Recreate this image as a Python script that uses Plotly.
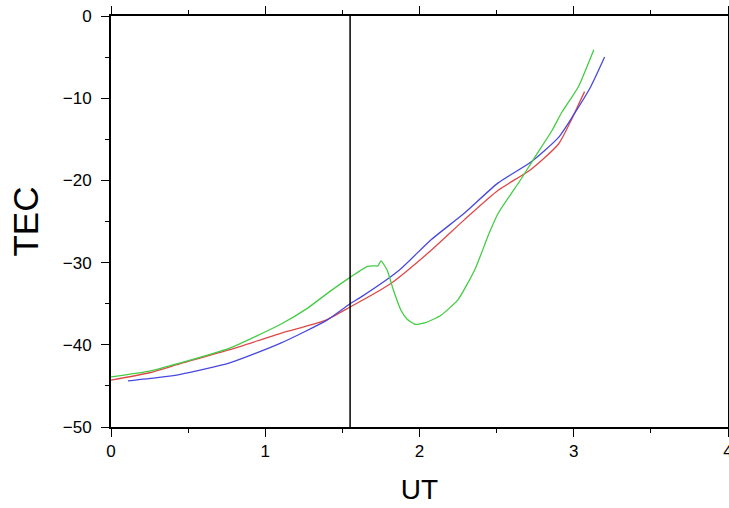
import plotly.graph_objects as go

# UT (hours) and TEC values for the three tracks
ut_red = [0.00, 0.25, 0.45, 0.77, 1.10, 1.38, 1.55, 1.81, 2.07, 2.29, 2.51, 2.72, 2.90, 2.98, 3.07]
tec_red = [-44.3, -43.4, -42.3, -40.6, -38.6, -37.1, -35.4, -32.6, -28.6, -24.8, -21.2, -18.7, -15.6, -12.8, -9.2]

ut_blue = [0.11, 0.30, 0.45, 0.77, 1.10, 1.40, 1.55, 1.62, 1.87, 2.07, 2.29, 2.51, 2.72, 2.90, 3.00, 3.11, 3.20]
tec_blue = [-44.4, -44.0, -43.6, -42.2, -39.8, -37.0, -35.0, -34.2, -30.9, -27.3, -24.0, -20.3, -17.8, -14.8, -12.0, -8.6, -5.0]

ut_green = [0.00, 0.25, 0.45, 0.77, 1.10, 1.27, 1.42, 1.55, 1.66, 1.70, 1.73, 1.75, 1.79, 1.83,
            1.88, 1.92, 1.97, 2.04, 2.14, 2.25, 2.36, 2.45, 2.51, 2.66, 2.74, 2.86, 2.92, 3.03, 3.13]
tec_green = [-43.9, -43.2, -42.2, -40.4, -37.5, -35.6, -33.5, -31.8, -30.5, -30.4, -30.4, -29.8, -30.9, -33.3,
             -35.8, -36.9, -37.5, -37.3, -36.4, -34.5, -30.8, -26.5, -24.0, -19.8, -17.4, -13.9, -11.8, -8.6, -4.1]

marker_ut = 1.55

x_ticks = [0, 1, 2, 3, 4]
y_ticks = [-50, -40, -30, -20, -10, 0]

fig = go.Figure()
fig.add_trace(go.Scatter(x=ut_red, y=tec_red, mode="lines",
                         line=dict(color="#e04848", width=1.3, shape="spline", smoothing=0.6)))
fig.add_trace(go.Scatter(x=ut_blue, y=tec_blue, mode="lines",
                         line=dict(color="#4848e0", width=1.3, shape="spline", smoothing=0.6)))
fig.add_trace(go.Scatter(x=ut_green, y=tec_green, mode="lines",
                         line=dict(color="#44cc44", width=1.3, shape="spline", smoothing=0.5)))
fig.add_trace(go.Scatter(x=[marker_ut, marker_ut], y=[-50, 0], mode="lines",
                         line=dict(color="black", width=1.5)))

font = "Liberation Sans, Arial, Helvetica, sans-serif"
axis_common = dict(
    showline=True, linecolor="black", linewidth=2, mirror="ticks",
    ticks="outside", ticklen=8, tickwidth=1, tickcolor="black",
    showgrid=False, zeroline=False, automargin=False, ticklabeloverflow="allow",
    tickfont=dict(family=font, size=17, color="black"),
)

fig.update_xaxes(range=[0, 4], tickvals=x_ticks,
                 minor=dict(dtick=0.5, ticks="outside", ticklen=4, tickcolor="black", showgrid=False),
                 title=dict(text="UT", font=dict(family=font, size=28, color="black"), standoff=19),
                 **axis_common)
fig.update_yaxes(range=[-50, 0], tickvals=y_ticks, ticklabelstandoff=6,
                 minor=dict(dtick=5, ticks="outside", ticklen=4, tickcolor="black", showgrid=False),
                 title=dict(text="TEC", font=dict(family=font, size=35, color="black"), standoff=14),
                 **axis_common)

fig.update_layout(
    width=729, height=508, autosize=False,
    margin=dict(l=111, r=1, t=16, b=81, pad=0),
    paper_bgcolor="white", plot_bgcolor="white",
    showlegend=False,
)

fig.write_html("out.html")
